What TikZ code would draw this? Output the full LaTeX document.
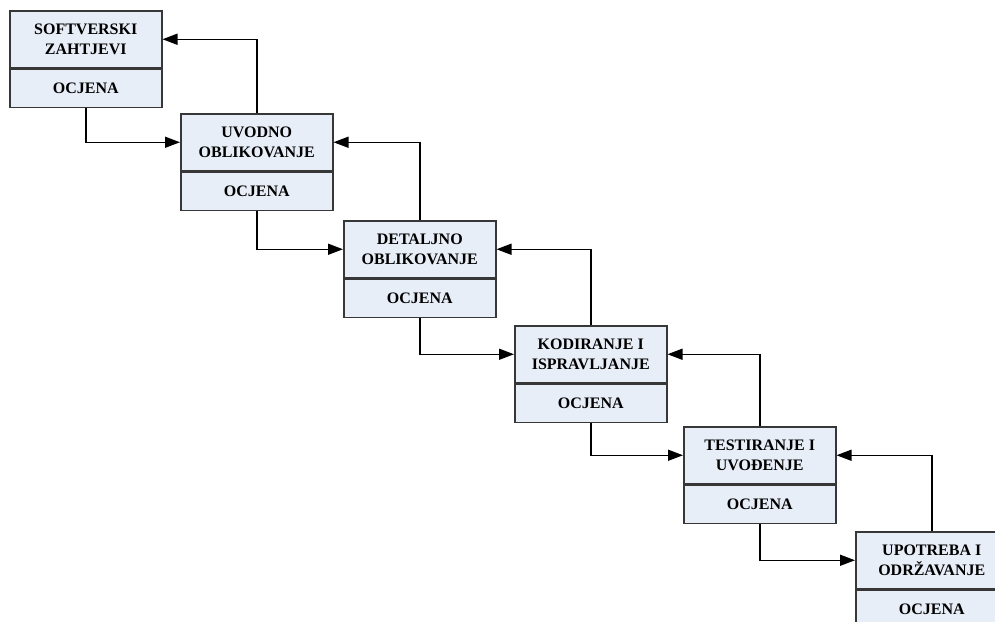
\documentclass[tikz,border=0pt]{standalone}
\usepackage{fontspec}
\setmainfont{Liberation Serif}
\usetikzlibrary{arrows.meta}
\definecolor{boxfill}{RGB}{232,238,248}
\definecolor{boxline}{RGB}{55,55,55}
\tikzset{
  upper/.style={draw=boxline, fill=boxfill, line width=1.5pt, anchor=north west,
    minimum width=152pt, minimum height=57pt, inner sep=0pt, align=center,
    font=\fontsize{16}{20}\selectfont\bfseries},
  lower/.style={draw=boxline, fill=boxfill, line width=1.5pt, anchor=north,
    minimum width=152pt, minimum height=38pt, inner sep=0pt,
    font=\fontsize{16}{20}\selectfont\bfseries},
  conn/.style={line width=1.5pt, -{Triangle[length=15pt,width=11pt]}}
}
\begin{document}
\begin{tikzpicture}[x=1pt,y=-1pt]
\useasboundingbox (0,0) rectangle (995,621);
\clip (0,0) rectangle (995,621);
\node[upper] (b1) at (9,10) {SOFTVERSKI\\ZAHTJEVI};
\node[lower] (c1) at (b1.south) {OCJENA};
\node[upper] (b2) at (180,113) {UVODNO\\OBLIKOVANJE};
\node[lower] (c2) at (b2.south) {OCJENA};
\node[upper] (b3) at (343,220) {DETALJNO\\OBLIKOVANJE};
\node[lower] (c3) at (b3.south) {OCJENA};
\node[upper] (b4) at (514,325) {KODIRANJE I\\ISPRAVLJANJE};
\node[lower] (c4) at (b4.south) {OCJENA};
\node[upper] (b5) at (683,426) {TESTIRANJE I\\UVOĐENJE};
\node[lower] (c5) at (b5.south) {OCJENA};
\node[upper] (b6) at (855,531) {UPOTREBA I\\ODRŽAVANJE};
\node[lower] (c6) at (b6.south) {OCJENA};
\foreach \i/\j in {1/2,2/3,3/4,4/5,5/6}{
  \draw[conn] (c\i.south) |- (b\j.west);
  \draw[conn] (b\j.north) |- (b\i.east);
}
\end{tikzpicture}
\end{document}
